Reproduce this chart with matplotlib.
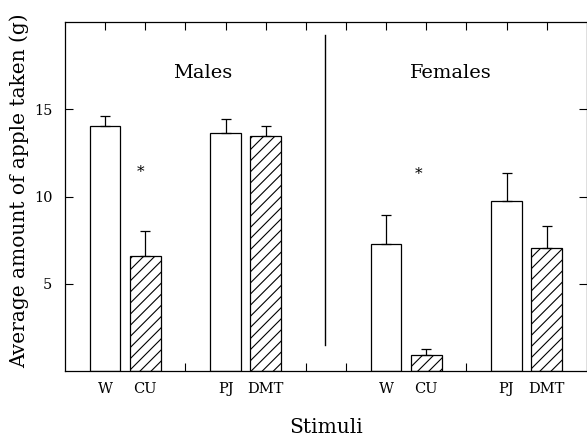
import numpy as np
import matplotlib
matplotlib.use('Agg')
import matplotlib.pyplot as plt

# Data
stimuli = ['W', 'CU', 'PJ', 'DMT']
male_means = [14.04, 6.6, 13.64, 13.45]
male_err = [0.6, 1.4, 0.8, 0.57]
female_means = [7.26, 0.92, 9.75, 7.05]
female_err = [1.7, 0.33, 1.6, 1.25]
male_pos = [1, 2, 4, 5]
female_pos = [8, 9, 11, 12]
hatched = [False, True, False, True]

plt.rcParams['font.family'] = ['DejaVu Serif']
plt.rcParams['hatch.linewidth'] = 0.8

fig = plt.figure(figsize=(5.87, 4.36), dpi=100)
ax = fig.add_axes([0.1107, 0.149, 0.889, 0.8005])

for pos, means, errs in [(male_pos, male_means, male_err),
                         (female_pos, female_means, female_err)]:
    for p, m, e, h in zip(pos, means, errs, hatched):
        ax.bar(p, m, width=0.76, color='white', edgecolor='black',
               linewidth=0.9, hatch='///' if h else None, zorder=2)
        ax.errorbar(p, m, yerr=[[0], [e]], fmt='none', ecolor='black',
                    elinewidth=0.9, capsize=3.5, capthick=0.9, zorder=3)

# significance marks
ax.text(1.88, 11.4, '*', ha='center', va='center', fontsize=11)
ax.text(8.82, 11.3, '*', ha='center', va='center', fontsize=11)

# divider between groups
ax.plot([6.48, 6.48], [1.5, 19.25], color='black', linewidth=1.0)

ax.text(3.42, 17.1, 'Males', ha='center', va='center', fontsize=14)
ax.text(9.6, 17.1, 'Females', ha='center', va='center', fontsize=14)

ax.set_xlim(0, 13)
ax.set_ylim(0, 20)
ticks = list(range(1, 13))
labels = []
for t in ticks:
    if t in male_pos:
        labels.append(stimuli[male_pos.index(t)])
    elif t in female_pos:
        labels.append(stimuli[female_pos.index(t)])
    else:
        labels.append('')
ax.set_xticks(ticks)
ax.set_xticklabels(labels, fontsize=10.5)
ax.set_yticks([5, 10, 15])
ax.tick_params(axis='both', direction='in', length=6, width=0.8,
               top=True, right=True, labelsize=10.5)
ax.tick_params(axis='x', pad=8)
ax.tick_params(axis='y', pad=9)
for s in ax.spines.values():
    s.set_linewidth(0.9)

ax.set_xlabel('Stimuli', fontsize=14.5, labelpad=16)
ax.set_ylabel('Average amount of apple taken (g)', fontsize=14.5)
ax.yaxis.set_label_coords(-0.068, 0.516)

fig.savefig('out.png', dpi=100)
